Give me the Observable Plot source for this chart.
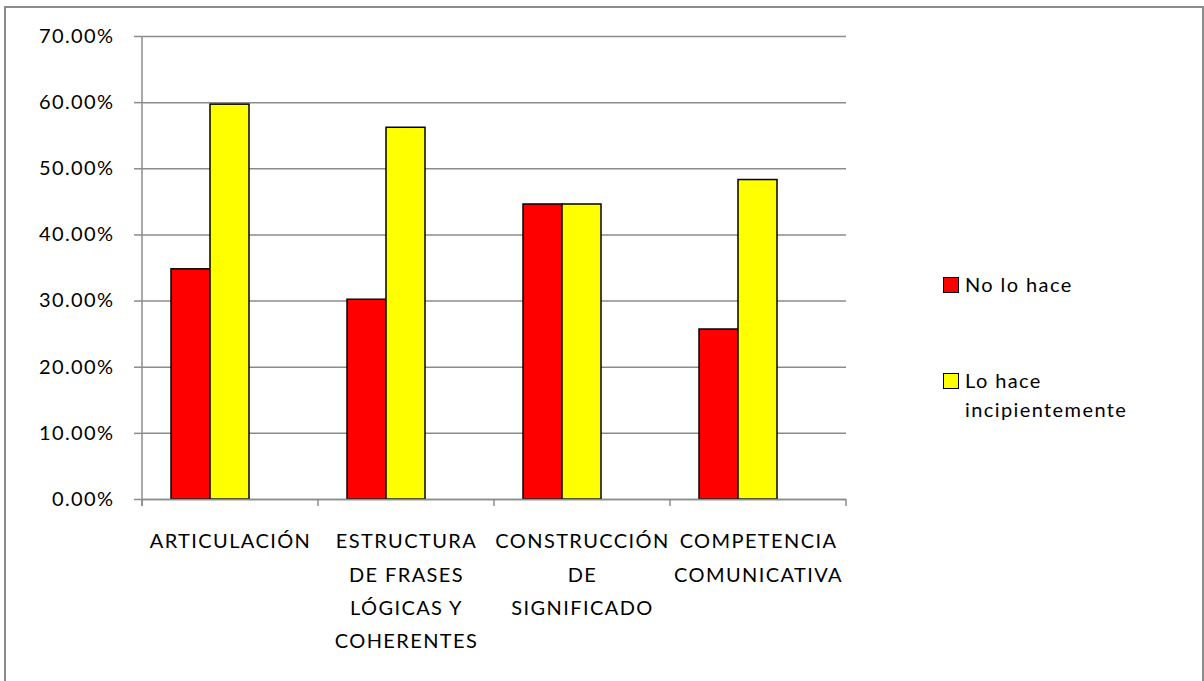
<!DOCTYPE html>
<html>
<head>
<meta charset="utf-8">
<script src="https://cdn.jsdelivr.net/npm/d3@7"></script>
<script src="https://cdn.jsdelivr.net/npm/@observablehq/plot@0.6"></script>
<style>
  html, body { margin: 0; padding: 0; background: #fff; }
  #wrap { position: relative; width: 1204px; height: 681px; overflow: hidden; font-family: Lato, "Open Sans", sans-serif; }
  #border { position: absolute; left: 4px; top: 6px; width: 1196px; height: 700px; border: 2px solid #8c8c8c; pointer-events: none; }
  .legend { position: absolute; left: 943px; font-size: 20px; letter-spacing: 1.4px; color: #000; line-height: 29px; }
  .legend .sw { position: absolute; left: 0; width: 14px; height: 14px; border: 1px solid #000; }
  .legend .lab { position: absolute; left: 22px; white-space: nowrap; }
</style>
</head>
<body>
<div id="wrap">
  <div id="chart"></div>
  <div id="legend"></div>
  <div id="border"></div>
</div>
<script>
// Categories (evaluated skills) and their multi-line axis labels
const categories = [
  "ARTICULACIÓN",
  "ESTRUCTURA DE FRASES LÓGICAS Y COHERENTES",
  "CONSTRUCCIÓN DE SIGNIFICADO",
  "COMPETENCIA COMUNICATIVA"
];
const categoryLabels = [
  "ARTICULACIÓN",
  "ESTRUCTURA\nDE FRASES\nLÓGICAS Y\nCOHERENTES",
  "CONSTRUCCIÓN\nDE\nSIGNIFICADO",
  "COMPETENCIA\nCOMUNICATIVA"
];

// Series and their values (share of students)
const series = ["No lo hace", "Lo hace incipientemente"];
const seriesColors = ["#ff0000", "#ffff00"];
const noLoHace = [0.348, 0.302, 0.446, 0.257];
const loHaceIncipientemente = [0.597, 0.562, 0.446, 0.483];

// Y axis ticks
const yTicks = [0, 0.1, 0.2, 0.3, 0.4, 0.5, 0.6, 0.7];

const table = categories.flatMap((c, i) => [
  {category: c, series: series[0], value: noLoHace[i]},
  {category: c, series: series[1], value: loHaceIncipientemente[i]}
]);

const labelOf = new Map(categories.map((c, i) => [c, categoryLabels[i]]));
const axisGrey = "#8c8c8c";

const chart = Plot.plot({
  width: 1204,
  height: 681,
  marginLeft: 140,
  marginRight: 357,
  marginTop: 36,
  marginBottom: 182,
  style: {fontFamily: "Lato, 'Open Sans', sans-serif", fontSize: "20px", letterSpacing: "1.4px", color: "#000", background: "transparent"},
  fx: {domain: categories, padding: 0, axis: null},
  x: {domain: series, padding: 0, paddingOuter: 1.25, align: 0.3, axis: null},
  y: {domain: [0, 0.7], axis: null},
  color: {domain: series, range: seriesColors},
  marks: [
    Plot.gridY(yTicks, {stroke: axisGrey, strokeOpacity: 1, strokeWidth: 1.5}),
    Plot.axisY(yTicks, {
      anchor: "left",
      label: null,
      tickFormat: d3.format(".2%"),
      tickSize: 8,
      tickPadding: 20,
      stroke: axisGrey,
      strokeWidth: 1.5,
      fill: "#000",
      fontSize: 20
    }),
    Plot.barY(table, {
      fx: "category",
      x: "series",
      y: "value",
      fill: "series",
      stroke: "#000",
      strokeWidth: 1.5
    }),
    Plot.ruleY([0], {stroke: axisGrey, strokeWidth: 1.5}),
    Plot.axisFx({
      anchor: "bottom",
      label: null,
      tickSize: 0,
      tickPadding: 25,
      tickFormat: d => labelOf.get(d),
      lineHeight: 1.67,
      fill: "#000",
      fontSize: 20
    })
  ]
});
document.getElementById("chart").append(chart);

// Vertical axis line and the boundary ticks between categories, placed from the plot's own scales
{
  const fx = chart.scale("fx");
  const y = chart.scale("y");
  const y0 = y.apply(0);
  const yTop = y.apply(0.7);
  let edges;
  if (fx && fx.bandwidth != null) {
    edges = categories.map(c => fx.apply(c));
    edges.push(fx.apply(categories[categories.length - 1]) + fx.bandwidth);
  } else {
    const step = (1204 - 140 - 357) / categories.length;
    edges = d3.range(categories.length + 1).map(i => 140 + i * step);
  }
  const g = d3.select(chart).append("g").attr("stroke", axisGrey).attr("stroke-width", 1.5);
  g.append("line").attr("x1", edges[0]).attr("x2", edges[0]).attr("y1", yTop).attr("y2", y0 + 7);
  for (const e of edges) {
    g.append("line").attr("x1", e).attr("x2", e).attr("y1", y0).attr("y2", y0 + 7);
  }
}

// Legend on the right
const legend = document.getElementById("legend");
const legendTops = [277, 373];
series.forEach((s, i) => {
  const item = document.createElement("div");
  item.className = "legend";
  item.style.top = legendTops[i] + "px";
  const sw = document.createElement("div");
  sw.className = "sw";
  sw.style.background = seriesColors[i];
  sw.style.top = "0px";
  const lab = document.createElement("div");
  lab.className = "lab";
  lab.style.top = "-7px";
  lab.innerHTML = i === 1 ? "Lo hace<br>incipientemente" : s;
  item.append(sw, lab);
  legend.append(item);
});
</script>
</body>
</html>
